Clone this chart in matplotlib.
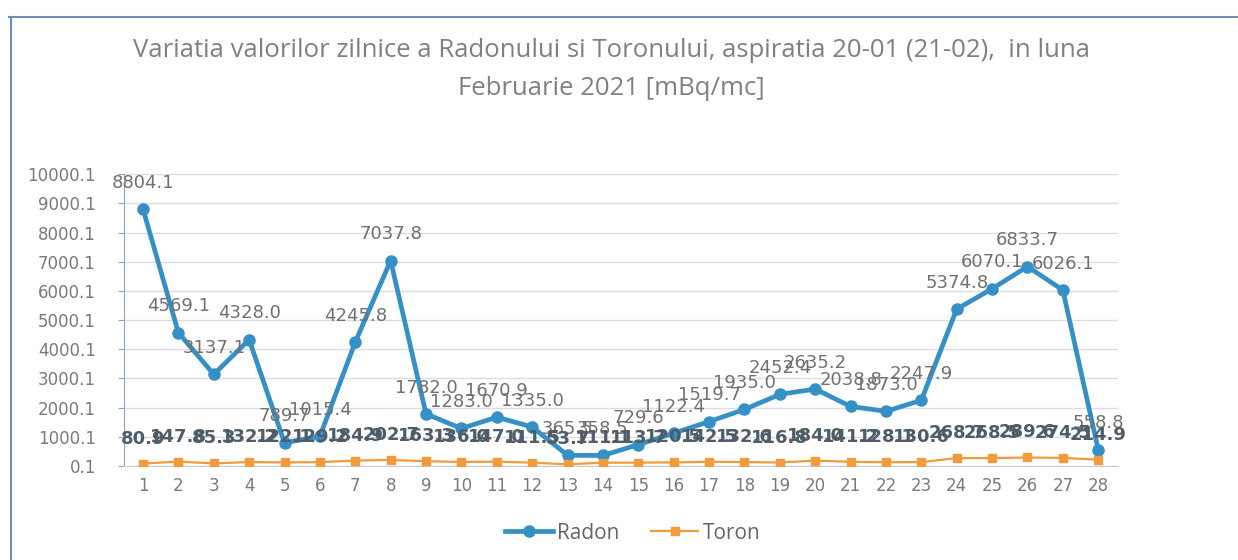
import matplotlib.pyplot as plt
from matplotlib.lines import Line2D

# daily values, February 2021
days = list(range(1, 29))
radon = [8804.1, 4569.1, 3137.1, 4328.0, 789.7, 1015.4, 4245.8, 7037.8,
         1782.0, 1283.0, 1670.9, 1335.0, 365.5, 358.5, 729.6, 1122.4,
         1519.7, 1935.0, 2452.4, 2635.2, 2038.8, 1873.0, 2247.9, 5374.8,
         6070.1, 6833.7, 6026.1, 558.8]
toron = [80.9, 147.8, 85.3, 132.2, 122.1, 129.2, 184.9, 202.7,
         163.3, 136.0, 147.0, 111.5, 53.7, 111.1, 113.7, 120.5,
         142.5, 132.6, 116.8, 184.0, 141.2, 128.1, 130.6, 268.7,
         268.5, 289.6, 274.5, 214.9]
ytick_values = [0.1, 1000.1, 2000.1, 3000.1, 4000.1, 5000.1,
                6000.1, 7000.1, 8000.1, 9000.1, 10000.1]

radon_color = "#3590c6"
toron_color = "#f39a3c"

fig = plt.figure(figsize=(12.38, 5.6), dpi=100)
ax = fig.add_axes([0.0998, 0.168, 0.803, 0.521])

ax.plot(days, radon, color=radon_color, lw=3.4, marker="o", ms=8,
        label="Radon", zorder=3)
ax.plot(days, toron, color=toron_color, lw=1.6, marker="s", ms=6,
        label="Toron", zorder=3)

# data labels above each point
for d, v in zip(days, radon):
    ax.annotate(f"{v:.1f}", (d, v), xytext=(0, 19), textcoords="offset points",
                ha="center", va="center", fontsize=13, color="#707070",
                family="DejaVu Sans", zorder=5, annotation_clip=False)
for d, v in zip(days, toron):
    ax.annotate(f"{v:.1f}", (d, v), xytext=(0, 18), textcoords="offset points",
                ha="center", va="center", fontsize=13, fontweight="bold",
                color="#4f5d68", family="DejaVu Sans", zorder=6,
                annotation_clip=False)

ax.set_xlim(0.45, 28.55)
ax.set_ylim(0.1, 10000.1)
ax.set_xticks(days)
ax.set_xticklabels([str(d) for d in days])
ax.set_yticks(ytick_values)
ax.set_yticklabels([f"{v:.1f}" for v in ytick_values])

ax.yaxis.grid(True, color="#dcdce8", lw=1)
ax.set_axisbelow(True)
for side in ["top", "right"]:
    ax.spines[side].set_visible(False)
ax.spines["left"].set_color("#8aa6c4")
ax.spines["bottom"].set_color("#c8c8d0")
ax.tick_params(axis="x", length=0, pad=8, labelsize=12, labelcolor="#7a7a7a")
ax.tick_params(axis="y", length=4, color="#8aa6c4", pad=16, labelsize=12,
               labelcolor="#7a7a7a")

# title (two lines)
fig.text(0.494, 0.909,
         "Variatia valorilor zilnice a Radonului si Toronului, aspiratia 20-01 (21-02),  in luna",
         ha="center", va="center", fontsize=18.5, color="#808080", family="Open Sans")
fig.text(0.494, 0.842, "Februarie 2021 [mBq/mc]",
         ha="center", va="center", fontsize=18.5, color="#808080", family="Open Sans")

# legend at bottom
leg = fig.legend(loc="center", bbox_to_anchor=(0.511, 0.048), ncol=2,
                 frameon=False, prop={"family": "Open Sans", "size": 15},
                 handlelength=2.3, handletextpad=0.2, columnspacing=1.5)
for t in leg.get_texts():
    t.set_color("#666666")

# chart-area border
fig.add_artist(Line2D([0.007, 1.0], [0.97, 0.97], color="#6f8fb0", lw=1.5))
fig.add_artist(Line2D([0.009, 0.009], [0.0, 0.97], color="#6f8fb0", lw=1.5))

fig.savefig("out.png", dpi=100)
